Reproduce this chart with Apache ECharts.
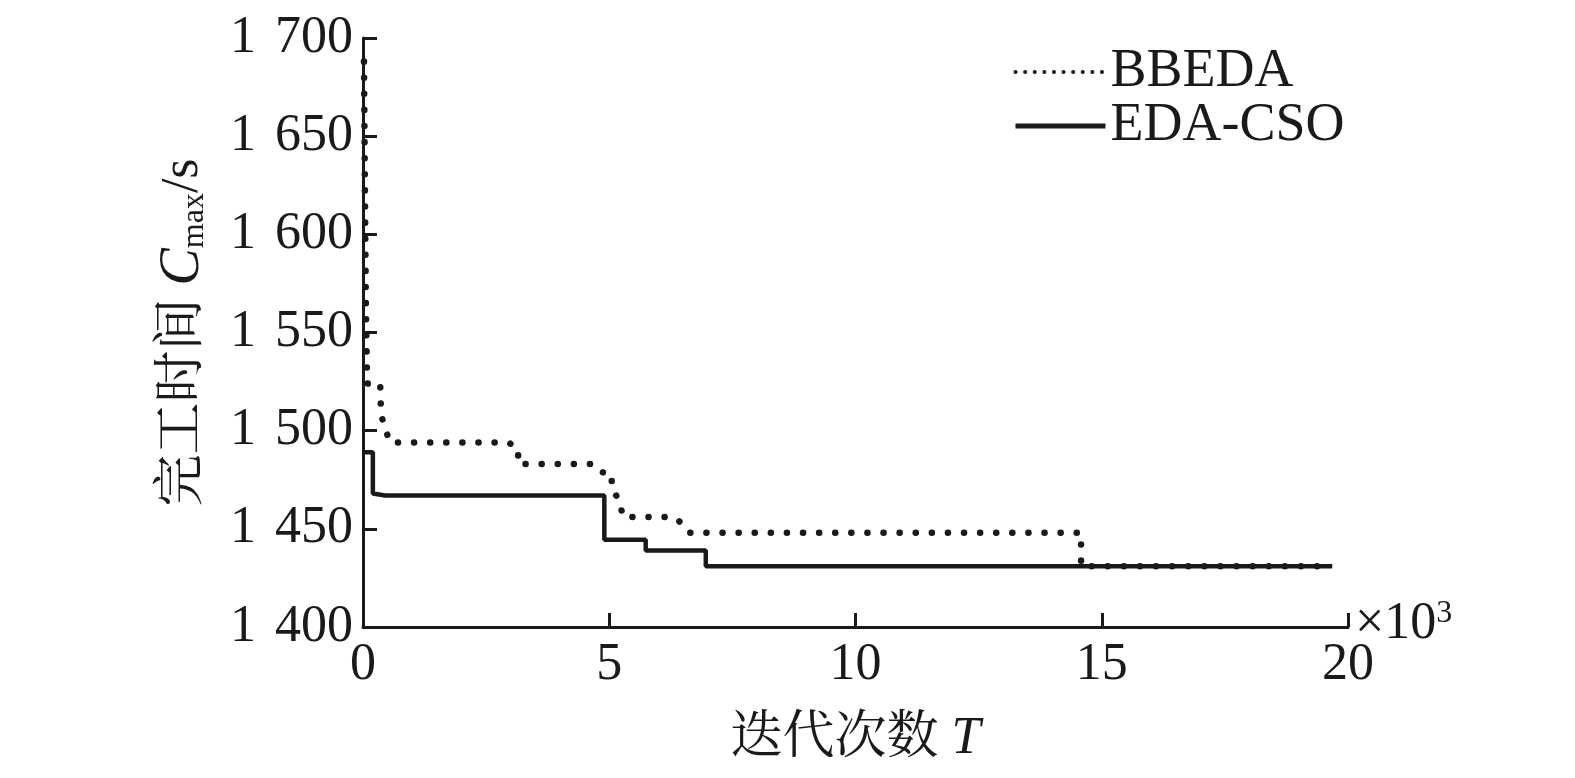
<!DOCTYPE html>
<html lang="zh">

<head>
    <meta charset="UTF-8">
    <title>完工时间收敛曲线</title>
    <script type="text/javascript" src="https://cdn.jsdelivr.net/npm/echarts@6/dist/echarts.min.js"></script>
    <style>
        body {
            margin: 0;
            background: #fff;
        }

        .chart {
            width: 1575px;
            height: 778px;
        }
    </style>
</head>

<body>
    <div class="chart"></div>
</body>
<script>
    // 迭代次数 (x10^3) 与完工时间
    let bbedaData = [
        [0.02, 1688], [0.04, 1620], [0.06, 1560], [0.08, 1530], [0.1, 1523],
        [0.35, 1523], [0.36, 1514], [0.38, 1507], [0.45, 1501], [0.55, 1494],
        [2.95, 1494], [3.15, 1491], [3.15, 1483], [4.64, 1483], [4.81, 1479],
        [5.05, 1478], [5.05, 1470], [5.2, 1465], [5.28, 1456], [6.29, 1456],
        [6.47, 1453], [6.63, 1448], [14.58, 1448], [14.58, 1431], [19.68, 1431]
    ]
    let edaCsoData = [
        [0, 1489], [0.2, 1489], [0.2, 1468], [0.45, 1467], [4.9, 1467],
        [4.9, 1444.5], [5.74, 1444.5], [5.74, 1439], [6.96, 1439], [6.96, 1431],
        [19.68, 1431]
    ]
    let seriesNames = ['BBEDA', 'EDA-CSO']
    let yTicks = [1400, 1450, 1500, 1550, 1600, 1650, 1700]
    let xTicks = [0, 5, 10, 15, 20]

    let font = '"Liberation Serif", "Times New Roman", "Noto Serif CJK SC", "Noto Sans CJK SC", serif'
    let black = '#1a1a1a'

    let chart = echarts.init(document.querySelector('.chart'))

    let option = {
        backgroundColor: '#fff',
        animation: false,
        textStyle: {
            fontFamily: font,
            color: black
        },
        grid: {
            left: 363,
            right: 227,
            top: 38,
            bottom: 151
        },
        legend: {
            orient: 'vertical',
            left: 1008,
            top: 40,
            itemWidth: 90,
            itemHeight: 14,
            itemGap: 0,
            data: [{
                name: seriesNames[0],
                lineStyle: { width: 4, type: [0.1, 9.5], cap: 'round', color: black }
            }, {
                name: seriesNames[1],
                lineStyle: { width: 5, color: black }
            }],
            itemStyle: { opacity: 0 },
            textStyle: {
                fontFamily: font,
                fontSize: 54,
                color: black
            }
        },
        xAxis: {
            type: 'value',
            min: xTicks[0],
            max: xTicks[xTicks.length - 1],
            interval: 5,
            name: '迭代次数 {it|T}',
            nameLocation: 'middle',
            nameGap: 86,
            nameTextStyle: {
                fontFamily: font,
                fontSize: 52,
                color: black,
                rich: {
                    it: { fontFamily: font, fontSize: 52, fontStyle: 'italic', color: black }
                }
            },
            axisLine: { lineStyle: { color: black, width: 3 } },
            axisTick: { inside: true, length: 14, lineStyle: { color: black, width: 3 } },
            axisLabel: { fontSize: 52, margin: 12, color: black, fontFamily: font },
            splitLine: { show: false }
        },
        yAxis: {
            type: 'value',
            min: yTicks[0],
            max: yTicks[yTicks.length - 1],
            interval: 50,
            name: '完工时间 {it|C}{sub|max}/s',
            nameLocation: 'middle',
            nameGap: 152,
            nameTextStyle: {
                fontFamily: font,
                fontSize: 52,
                color: black,
                rich: {
                    it: { fontFamily: font, fontSize: 56, fontStyle: 'italic', color: black },
                    sub: { fontFamily: font, fontSize: 32, verticalAlign: 'bottom', color: black }
                }
            },
            axisLine: { show: true, lineStyle: { color: black, width: 3 } },
            axisTick: { show: true, inside: true, length: 14, lineStyle: { color: black, width: 3 } },
            axisLabel: {
                fontSize: 52,
                margin: 10,
                color: black,
                fontFamily: font,
                // 千位后留一段空白, 如 "1 700"
                formatter: function (v) {
                    let s = String(v)
                    return '{k|' + s.slice(0, 1) + '}' + s.slice(1)
                },
                rich: {
                    k: { fontFamily: font, fontSize: 52, color: black, padding: [0, 19, 0, 0] }
                }
            },
            splitLine: { show: false }
        },
        graphic: [{
            type: 'text',
            left: 1355,
            top: 598,
            style: {
                text: '×10{sup|3}',
                fontFamily: font,
                fontSize: 52,
                fill: black,
                rich: {
                    sup: { fontFamily: font, fontSize: 32, verticalAlign: 'top', fill: black }
                }
            }
        }],
        series: [{
            name: seriesNames[0],
            type: 'line',
            data: bbedaData,
            symbol: 'none',
            z: 3,
            itemStyle: { color: black },
            lineStyle: {
                color: black,
                width: 6.5,
                type: [0.1, 16],
                cap: 'round'
            }
        }, {
            name: seriesNames[1],
            type: 'line',
            data: edaCsoData,
            symbol: 'none',
            z: 2,
            itemStyle: { color: black },
            lineStyle: {
                color: black,
                width: 4.5
            }
        }]
    }
    chart.setOption(option)
</script>

</html>
